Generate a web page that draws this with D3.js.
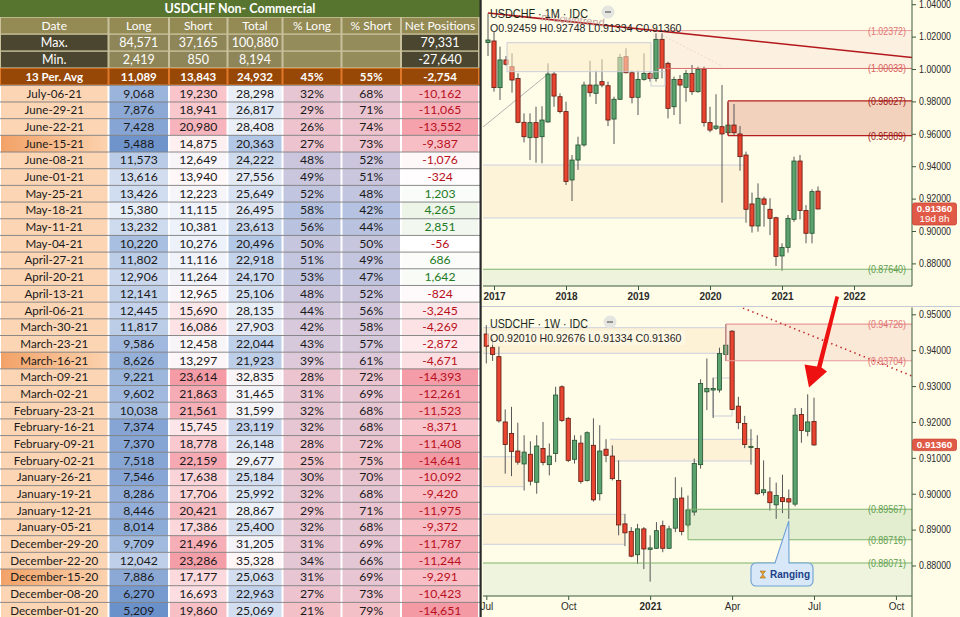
<!DOCTYPE html>
<html>
<head>
<meta charset="utf-8">
<script src="https://cdn.jsdelivr.net/npm/d3@7"></script>
<style>
  body { margin: 0; background: #fff; overflow: hidden; }
</style>
</head>
<body>
<svg id="chart" width="960" height="617"></svg>
<script>
// ---------- COT table ----------
const tableTitle = "USDCHF Non- Commercial";
const headers = ["Date", "Long", "Short", "Total", "% Long", "% Short", "Net Positions"];
const statLabels = ["Max.", "Min.", "13 Per. Avg"];
const statLong = [84571, 2419, 11089];
const statShort = [37165, 850, 13843];
const statTotal = [100880, 8194, 24932];
const statPctLong = [null, null, 45];
const statPctShort = [null, null, 55];
const statNet = [79331, -27640, -2754];

const dates = ["July-06-21", "June-29-21", "June-22-21", "June-15-21", "June-08-21", "June-01-21",
  "May-25-21", "May-18-21", "May-11-21", "May-04-21", "April-27-21", "April-20-21", "April-13-21",
  "April-06-21", "March-30-21", "March-23-21", "March-16-21", "March-09-21", "March-02-21",
  "February-23-21", "February-16-21", "February-09-21", "February-02-21", "January-26-21",
  "January-19-21", "January-12-21", "January-05-21", "December-29-20", "December-22-20",
  "December-15-20", "December-08-20", "December-01-20"];
const longPos = [9068, 7876, 7428, 5488, 11573, 13616, 13426, 15380, 13232, 10220, 11802, 12906, 12141,
  12445, 11817, 9586, 8626, 9221, 9602, 10038, 7374, 7370, 7518, 7546, 8286, 8446, 8014, 9709, 12042,
  7886, 6270, 5209];
const shortPos = [19230, 18941, 20980, 14875, 12649, 13940, 12223, 11115, 10381, 10276, 11116, 11264, 12965,
  15690, 16086, 12458, 13297, 23614, 21863, 21561, 15745, 18778, 22159, 17638, 17706, 20421, 17386, 21496,
  23286, 17177, 16693, 19860];
const totalPos = [28298, 26817, 28408, 20363, 24222, 27556, 25649, 26495, 23613, 20496, 22918, 24170, 25106,
  28135, 27903, 22044, 21923, 32835, 31465, 31599, 23119, 26148, 29677, 25184, 25992, 28867, 25400, 31205,
  35328, 25063, 22963, 25069];
const pctLong = [32, 29, 26, 27, 48, 49, 52, 58, 56, 50, 51, 53, 48, 44, 42, 43, 39, 28, 31, 32, 32, 28, 25,
  30, 32, 29, 32, 31, 34, 31, 27, 21];
const pctShort = [68, 71, 74, 73, 52, 51, 48, 42, 44, 50, 49, 47, 52, 56, 58, 57, 61, 72, 69, 68, 68, 72, 75,
  70, 68, 71, 68, 69, 66, 69, 73, 79];
const netPos = [-10162, -11065, -13552, -9387, -1076, -324, 1203, 4265, 2851, -56, 686, 1642, -824, -3245,
  -4269, -2872, -4671, -14393, -12261, -11523, -8371, -11408, -14641, -10092, -9420, -11975, -9372, -11787,
  -11244, -9291, -10423, -14651];
const highlightDates = ["June-15-21", "March-16-21", "December-15-20"];

// ---------- Monthly candles, Dec 2016 .. Jul 2021 ----------
const mOpen = [1.0163, 1.0173, 0.9885, 1.0056, 1.0014, 0.9942, 0.9671, 0.9576, 0.9669, 0.9582, 0.9673, 0.9969,
  0.9829, 0.9737, 0.9315, 0.9438, 0.9531, 0.9901, 0.9850, 0.9922, 0.9897, 0.9691, 0.9813, 1.0076, 0.9977,
  0.9825, 0.9936, 0.9973, 0.9942, 1.0183, 1.0035, 0.9767, 0.9936, 0.9887, 0.9973, 0.9860, 1.0000, 0.9669,
  0.9634, 0.9644, 0.9607, 0.9654, 0.9599, 0.9469, 0.9167, 0.9031, 0.9198, 0.9134, 0.9082, 0.8846, 0.8899,
  0.9072, 0.9432, 0.9126, 0.8986, 0.92459];
const mHigh = [1.0344, 1.0230, 1.0138, 1.0080, 1.0097, 0.9973, 0.9726, 0.9726, 0.9767, 0.9770, 1.0035, 0.9984,
  0.9850, 0.9798, 0.9469, 0.9582, 0.9922, 1.0051, 0.9990, 1.0060, 0.9922, 0.9829, 1.0093, 1.0128, 0.9990,
  0.9990, 1.0097, 0.9984, 1.0220, 1.0220, 1.0045, 0.9953, 0.9963, 0.9994, 1.0025, 1.0014, 1.0014, 0.9767,
  0.9844, 0.9901, 0.9792, 0.9784, 0.9648, 0.9490, 0.9237, 0.9294, 0.9212, 0.9202, 0.9088, 0.8924, 0.9099,
  0.9459, 0.9469, 0.9160, 0.9257, 0.92748];
const mLow = [1.0080, 0.9860, 0.9809, 1.0020, 0.9854, 0.9665, 0.9547, 0.9438, 0.9422, 0.9418, 0.9669, 0.9767,
  0.9726, 0.9284, 0.9185, 0.9377, 0.9521, 0.9829, 0.9784, 0.9887, 0.9648, 0.9537, 0.9809, 0.9973, 0.9788,
  0.9716, 0.9928, 0.9922, 0.9922, 0.9942, 0.9695, 0.9716, 0.9660, 0.9798, 0.9840, 0.9854, 0.9644, 0.9609,
  0.9623, 0.9175, 0.9593, 0.9593, 0.9372, 0.9051, 0.8990, 0.8996, 0.9027, 0.8975, 0.8784, 0.8755, 0.8866,
  0.9057, 0.9072, 0.8924, 0.8924, 0.91334];
const mClose = [1.0179, 0.9885, 1.0056, 1.0029, 0.9932, 0.9671, 0.9582, 0.9669, 0.9578, 0.9685, 0.9969, 0.9833,
  0.9737, 0.9305, 0.9438, 0.9531, 0.9901, 0.9854, 0.9901, 0.9901, 0.9685, 0.9813, 1.0072, 0.9977, 0.9825,
  0.9936, 0.9973, 0.9942, 1.0183, 1.0004, 0.9757, 0.9936, 0.9901, 0.9973, 0.9860, 0.9998, 0.9669, 0.9623,
  0.9648, 0.9599, 0.9654, 0.9607, 0.9459, 0.9134, 0.9031, 0.9202, 0.9165, 0.9078, 0.8842, 0.8899, 0.9078,
  0.9432, 0.9126, 0.8986, 0.9243, 0.91360];
const yearTicks = ["2017", "2018", "2019", "2020", "2021", "2022"];
const monthlyAxis = [1.04, 1.02, 1.00, 0.98, 0.96, 0.94, 0.92, 0.90, 0.88];
const monthlyLevels = [1.02372, 1.00033, 0.98027, 0.95889, 0.87640];

// ---------- Weekly candles, Jul 06 2020 .. Jul 05 2021 ----------
const wOpen = [0.9445, 0.9407, 0.9382, 0.9200, 0.9168, 0.9119, 0.9083, 0.9110, 0.9032, 0.9126, 0.9081, 0.9112,
  0.9298, 0.9210, 0.9096, 0.9141, 0.9037, 0.9135, 0.9000, 0.9124, 0.9105, 0.9037, 0.8916, 0.8895, 0.8830,
  0.8902, 0.8845, 0.8848, 0.8911, 0.8848, 0.8904, 0.8988, 0.8913, 0.8949, 0.9081, 0.9284, 0.9289, 0.9289,
  0.9388, 0.9453, 0.9244, 0.9196, 0.9129, 0.9126, 0.9003, 0.9005, 0.8969, 0.8989, 0.8986, 0.8971, 0.9221,
  0.9174, 0.92010];
const wHigh = [0.9470, 0.9433, 0.9410, 0.9235, 0.9242, 0.9198, 0.9163, 0.9146, 0.9163, 0.9200, 0.9140, 0.9298,
  0.9302, 0.9214, 0.9163, 0.9163, 0.9174, 0.9210, 0.9191, 0.9152, 0.9135, 0.9093, 0.8944, 0.8907, 0.8916,
  0.8907, 0.8884, 0.8921, 0.8925, 0.8911, 0.9046, 0.9018, 0.8995, 0.9098, 0.9319, 0.9377, 0.9323, 0.9407,
  0.9473, 0.9456, 0.9270, 0.9217, 0.9180, 0.9163, 0.9093, 0.9046, 0.9031, 0.9053, 0.9012, 0.9239, 0.9239,
  0.9277, 0.92676];
const wLow = [0.9363, 0.9370, 0.9198, 0.9056, 0.9049, 0.9081, 0.9009, 0.9023, 0.9000, 0.9079, 0.9051, 0.9088,
  0.9200, 0.9088, 0.9084, 0.9028, 0.9034, 0.8978, 0.8981, 0.9088, 0.9037, 0.8884, 0.8854, 0.8823, 0.8804,
  0.8790, 0.8755, 0.8846, 0.8837, 0.8846, 0.8893, 0.8884, 0.8907, 0.8939, 0.9070, 0.9233, 0.9211, 0.9282,
  0.9370, 0.9233, 0.9180, 0.9127, 0.9081, 0.8997, 0.8995, 0.8953, 0.8930, 0.8946, 0.8930, 0.8965, 0.9142,
  0.9160, 0.91334];
const wClose = [0.9411, 0.9388, 0.9203, 0.9137, 0.9118, 0.9088, 0.9116, 0.9035, 0.9133, 0.9087, 0.9105, 0.9275,
  0.9204, 0.9093, 0.9149, 0.9034, 0.9170, 0.8983, 0.9119, 0.9107, 0.9042, 0.8913, 0.8891, 0.8826, 0.8902,
  0.8846, 0.8849, 0.8897, 0.8848, 0.8902, 0.8986, 0.8895, 0.8955, 0.9084, 0.9307, 0.9293, 0.9293, 0.9391,
  0.9414, 0.9235, 0.9198, 0.9137, 0.9132, 0.9000, 0.9011, 0.8975, 0.8995, 0.8978, 0.8977, 0.9219, 0.9176,
  0.9200, 0.91360];
const weekTickIdx = [0, 13, 26, 39, 52, 65];
const weekTickLabels = ["Jul", "Oct", "2021", "Apr", "Jul", "Oct"];
const weeklyAxis = [0.95, 0.94, 0.93, 0.92, 0.91, 0.90, 0.89, 0.88];
const weeklyLevels = [0.94726, 0.93704, 0.89567, 0.88716, 0.88071];

const lastPrice = 0.91360;

// ---------- setup ----------
const svg = d3.select("#chart");
const fmt = d3.formatLocale({decimal: ".", thousands: ",", grouping: [3], currency: ["", ""], minus: "-"}).format(",");
const pfmt = d3.format(".5f");
const defs = svg.append("defs");

const hl = defs.append("linearGradient").attr("id", "hl");
hl.append("stop").attr("offset", "0%").attr("stop-color", "#f2a267");
hl.append("stop").attr("offset", "100%").attr("stop-color", "#fcd2ae");

// ================= TABLE =================
const cols = [0, 108.5, 169, 227.5, 282.5, 341.5, 401, 479];
const colMid = i => (cols[i] + cols[i + 1]) / 2;
const T = svg.append("g").attr("font-family", "Lato, 'Open Sans', sans-serif");
T.append("rect").attr("width", 480).attr("height", 617).attr("fill", "#ffffff");

// title row
T.append("rect").attr("x", 0).attr("y", 0).attr("width", 480).attr("height", 17).attr("fill", "#587530");
T.append("text").attr("x", 240).attr("y", 12.6).attr("text-anchor", "middle")
  .attr("font-size", 12.5).attr("font-weight", "bold").attr("fill", "#fff").text(tableTitle);

// header row
T.append("rect").attr("x", 0).attr("y", 17).attr("width", 480).attr("height", 68).attr("fill", "#c8c19c");
T.selectAll("rect.hdr").data(headers).join("rect").attr("class", "hdr")
  .attr("x", (d, i) => cols[i] + 1).attr("y", 17.8)
  .attr("width", (d, i) => cols[i + 1] - cols[i] - 2).attr("height", 15.6)
  .attr("fill", "#948a54");
T.selectAll("text.hdr").data(headers).join("text").attr("class", "hdr")
  .attr("x", (d, i) => colMid(i)).attr("y", 30).attr("text-anchor", "middle")
  .attr("font-size", 12).attr("fill", "#fff").text(d => d);

// Max / Min / Avg rows
const statRows = statLabels.map((lab, i) => [lab, statLong[i], statShort[i], statTotal[i],
  statPctLong[i], statPctShort[i], statNet[i]]);
const statY = [34, 51, 68];
const statFill = (r, c) => r === 2 ? "#974706" : (c === 0 || c === 6 ? "#4a4630" : (c < 4 ? "#8e8658" : "#958c5c"));
statRows.forEach((row, r) => {
  if (r === 2) {
    T.append("rect").attr("x", 0).attr("y", statY[r]).attr("width", 480).attr("height", 17.3).attr("fill", "#e0782a");
  }
  row.forEach((v, c) => {
    T.append("rect").attr("x", cols[c] + 1).attr("y", statY[r] + 0.8)
      .attr("width", cols[c + 1] - cols[c] - 2).attr("height", 15.6).attr("fill", statFill(r, c));
    if (v === null) return;
    let s = c === 0 ? v : (c === 4 || c === 5 ? v + "%" : fmt(v));
    T.append("text").attr("x", colMid(c)).attr("y", statY[r] + 13)
      .attr("text-anchor", "middle").attr("font-size", r === 2 ? 11.5 : 12.5)
      .attr("font-weight", r === 2 ? "bold" : "normal").attr("fill", "#fff").text(s);
  });
});

// data rows
const rowTop = 85.3, rowH = 16.68;
const longColor = d3.scaleLinear().domain(d3.extent(longPos)).range(["#6b91ca", "#e8eef8"]);
const shortColor = d3.scaleLinear().domain([d3.min(shortPos), 14000, d3.max(shortPos)])
  .range(["#edf2fa", "#fff7f8", "#f49ba5"]);
const totalColor = d3.scaleLinear().domain([d3.min(totalPos), 29000, d3.max(totalPos)])
  .range(["#b2c6e6", "#eef2f9", "#fff6f8"]);
const pctColor = d3.scaleLinear().domain([21, 40, 58]).range(["#f4c0c8", "#dccadb", "#b5c2e1"]).clamp(true);
const netColor = d3.scaleLinear().domain([d3.min(netPos), 0, d3.max(netPos)])
  .range(["#f49aa5", "#ffffff", "#ecf5e8"]);

const rows = dates.map((d, i) => ({
  cells: [
    {t: d, f: highlightDates.includes(d) ? "url(#hl)" : "#fcd5b4", c: "#1a1a1a"},
    {t: fmt(longPos[i]), f: longColor(longPos[i]), c: "#1a1a1a"},
    {t: fmt(shortPos[i]), f: shortColor(shortPos[i]), c: "#1a1a1a"},
    {t: fmt(totalPos[i]), f: totalColor(totalPos[i]), c: "#1a1a1a"},
    {t: pctLong[i] + "%", f: pctColor(pctLong[i]), c: "#1a1a1a"},
    {t: pctShort[i] + "%", f: pctColor(pctLong[i]), c: "#1a1a1a"},
    {t: fmt(netPos[i]), f: netColor(netPos[i]), c: netPos[i] < 0 ? "#b8101c" : "#237a23"}
  ]
}));

const R = T.selectAll("g.row").data(rows).join("g").attr("class", "row")
  .attr("transform", (d, i) => `translate(0,${rowTop + i * rowH})`);
R.selectAll("rect").data(d => d.cells).join("rect")
  .attr("x", (d, i) => cols[i] + 1).attr("y", 0)
  .attr("width", (d, i) => cols[i + 1] - cols[i] - 2).attr("height", rowH)
  .attr("fill", d => d.f);
R.append("line").attr("x1", 0).attr("x2", 480).attr("y1", 0).attr("y2", 0)
  .attr("stroke", "#7d7d7d").attr("stroke-width", 0.9);
R.selectAll("text").data(d => d.cells).join("text")
  .attr("x", (d, i) => colMid(i)).attr("y", 12.4).attr("text-anchor", "middle")
  .attr("font-size", (d, i) => i === 0 ? 11.6 : 12.2).attr("fill", d => d.c).text(d => d.t);

// ================= CHART PANES =================
const F = "'Liberation Sans', Arial, sans-serif";
const plotL = 483, plotR = 912;
svg.append("rect").attr("x", 480).attr("y", 0).attr("width", 480).attr("height", 617).attr("fill", "#fffde8");

function candles(g, x, y, O, H, L, C, shift, w) {
  const idx = d3.range(O.length);
  g.append("g").selectAll("line").data(idx).join("line")
    .attr("x1", i => x(i + shift)).attr("x2", i => x(i + shift))
    .attr("y1", i => y(H[i])).attr("y2", i => y(L[i]))
    .attr("stroke", "#575757").attr("stroke-width", 1);
  g.append("g").selectAll("rect").data(idx).join("rect")
    .attr("x", i => x(i + shift) - w / 2)
    .attr("y", i => y(Math.max(O[i], C[i])))
    .attr("width", w)
    .attr("height", i => Math.max(1.2, Math.abs(y(O[i]) - y(C[i]))))
    .attr("fill", i => C[i] >= O[i] ? "#5aa36e" : "#e8442f")
    .attr("stroke", i => C[i] >= O[i] ? "#234f2e" : "#5e1a10")
    .attr("stroke-width", 0.8);
}

function level(g, x0, yv, color, w) {
  g.append("line").attr("x1", x0).attr("x2", plotR).attr("y1", yv).attr("y2", yv)
    .attr("stroke", color).attr("stroke-width", w || 1);
}
function levelLabel(g, yv, v, color) {
  g.append("text").attr("x", 906).attr("y", yv + 4).attr("text-anchor", "end")
    .attr("font-family", F).attr("font-size", 11.2).attr("textLength", 38).attr("lengthAdjust", "spacingAndGlyphs")
    .attr("fill", color).text(`(${pfmt(v)})`);
}
function yAxis(g, y, vals) {
  const ax = d3.axisRight(y).tickValues(vals).tickFormat(pfmt).tickSize(4).tickPadding(3);
  const a = g.append("g").attr("transform", `translate(${plotR},0)`).call(ax);
  a.select(".domain").remove();
  a.selectAll("line").attr("stroke", "#3d5a3d");
  a.selectAll("text").attr("font-family", F).attr("font-size", 10.4).attr("textLength", 32)
    .attr("lengthAdjust", "spacingAndGlyphs").attr("fill", "#2b2b2b");
}
function priceTag(g, yv, lines) {
  const h = lines.length === 2 ? 22 : 11.5;
  const top = lines.length === 2 ? yv - 6 : yv - 5.8;
  g.append("rect").attr("x", plotR + 0.5).attr("y", top).attr("width", 44).attr("height", h)
    .attr("rx", 2).attr("fill", "#e05a47").attr("stroke", "#c94636").attr("stroke-width", 0.8);
  lines.forEach((t, k) => g.append("text").attr("x", plotR + 22.5).attr("y", top + 9 + k * 10.5)
    .attr("text-anchor", "middle").attr("font-family", F).attr("font-size", 9.8)
    .attr("font-weight", k === 0 ? "bold" : "normal").attr("fill", "#fff").text(t));
}
function minusBtn(g, cx, cy) {
  g.append("circle").attr("cx", cx).attr("cy", cy).attr("r", 6.5).attr("fill", "#e4e4e0");
  g.append("line").attr("x1", cx - 3).attr("x2", cx + 3).attr("y1", cy).attr("y2", cy)
    .attr("stroke", "#8a8a8a").attr("stroke-width", 1.8);
}
function legendTitle(g, x, y, t) {
  g.append("text").attr("x", x).attr("y", y).attr("font-family", F).attr("font-size", 13)
    .attr("textLength", 98).attr("lengthAdjust", "spacingAndGlyphs")
    .attr("fill", "#1c2a1c").text(t);
}

// ---------- MONTHLY ----------
const M = svg.append("g");
const xM = d3.scaleLinear().domain([0, 12]).range([494, 566]);   // month index, 0 = Jan 2017
const yM = d3.scaleLinear().domain([0.88, 1.04]).range([263.4, 4.2]);
const mBottom = 286;
defs.append("clipPath").attr("id", "clipM").append("rect")
  .attr("x", plotL).attr("y", 0).attr("width", plotR - plotL).attr("height", mBottom);
const MC = M.append("g").attr("clip-path", "url(#clipM)");

// background zones
MC.append("rect").attr("x", plotL).attr("y", 165).attr("width", 745 - plotL).attr("height", 53).attr("fill", "#fdf3d8");
[165, 218].forEach(v => MC.append("line").attr("x1", plotL).attr("x2", 745).attr("y1", v).attr("y2", v)
  .attr("stroke", "#cdd1de").attr("stroke-width", 1));
MC.append("rect").attr("x", plotL).attr("y", yM(monthlyLevels[4])).attr("width", plotR - plotL)
  .attr("height", mBottom - yM(monthlyLevels[4])).attr("fill", "#eef4dc");
MC.append("rect").attr("x", 653).attr("y", yM(monthlyLevels[0])).attr("width", plotR - 653)
  .attr("height", yM(monthlyLevels[1]) - yM(monthlyLevels[0])).attr("fill", "#fbeedd").attr("opacity", 0.8);
MC.append("rect").attr("x", 728).attr("y", yM(monthlyLevels[2])).attr("width", plotR - 728)
  .attr("height", yM(monthlyLevels[3]) - yM(monthlyLevels[2])).attr("fill", "#f2d2bd");
MC.append("line").attr("x1", 483).attr("y1", 127).attr("x2", 548).attr("y2", 74)
  .attr("stroke", "#9d9d9d").attr("stroke-width", 0.8);
MC.append("line").attr("x1", 662).attr("y1", 35).attr("x2", 722).attr("y2", 66)
  .attr("stroke", "#e8d0c8").attr("stroke-dasharray", "2,2").attr("stroke-width", 0.8);

candles(MC, xM, yM, mOpen, mHigh, mLow, mClose, -1, 4.2);

// translucent box over candles
MC.append("rect").attr("x", 507).attr("y", 42.7).attr("width", 144).attr("height", 29)
  .attr("fill", "#fcebc8").attr("fill-opacity", 0.55).attr("stroke", "#c6cad8").attr("stroke-width", 0.9);
MC.append("rect").attr("x", 651).attr("y", 71.7).attr("width", 14).attr("height", 14.3)
  .attr("fill", "none").attr("stroke", "#c6cad8").attr("stroke-width", 0.9);

// levels
level(MC, 653, yM(monthlyLevels[0]), "#e9a0a0", 1);
level(MC, 657, yM(monthlyLevels[1]), "#d76b6b", 1);
level(MC, 728, yM(monthlyLevels[2]), "#b31d1d", 1.2);
level(MC, 728, yM(monthlyLevels[3]), "#b31d1d", 1.2);
MC.append("line").attr("x1", 728).attr("x2", 728).attr("y1", yM(monthlyLevels[2])).attr("y2", yM(monthlyLevels[3]))
  .attr("stroke", "#b31d1d").attr("stroke-width", 1.2);
level(MC, plotL, yM(monthlyLevels[4]), "#7db36b", 1.2);

// downtrend line
MC.append("line").attr("x1", 488).attr("y1", 13).attr("x2", plotR).attr("y2", 57.5)
  .attr("stroke", "#b3191c").attr("stroke-width", 1.6);
MC.append("text").attr("x", 541).attr("y", 20.5).attr("transform", "rotate(5.5,541,20.5)")
  .attr("font-family", F).attr("font-size", 11).attr("fill", "#bfa2a2").text("m downtrend");

levelLabel(MC, yM(monthlyLevels[0]), monthlyLevels[0], "#e07474");
levelLabel(MC, yM(monthlyLevels[1]), monthlyLevels[1], "#d86060");
levelLabel(MC, yM(monthlyLevels[2]), monthlyLevels[2], "#9a1616");
levelLabel(MC, yM(monthlyLevels[3]), monthlyLevels[3], "#9a1616");
levelLabel(MC, yM(monthlyLevels[4]), monthlyLevels[4], "#5f9e4f");

// legend
legendTitle(M, 490, 17.5, "USDCHF · 1M · IDC");
minusBtn(M, 608, 12);
M.append("text").attr("x", 490).attr("y", 32).attr("font-family", F).attr("font-size", 10.6)
  .attr("fill", "#262626").text(`O${pfmt(mOpen[55])} H${pfmt(mHigh[55])} L${pfmt(mLow[55])} C${pfmt(mClose[55])}`);

// axes
M.append("line").attr("x1", plotR).attr("x2", plotR).attr("y1", 0).attr("y2", mBottom).attr("stroke", "#3d5a3d");
M.append("line").attr("x1", plotL).attr("x2", plotR).attr("y1", mBottom).attr("y2", mBottom).attr("stroke", "#3d5a3d");
yAxis(M, yM, monthlyAxis);
const axM = d3.axisBottom(xM).tickValues(yearTicks.map((d, i) => i * 12))
  .tickFormat((d, i) => yearTicks[i]).tickSize(4).tickPadding(3);
const gxM = M.append("g").attr("transform", `translate(0,${mBottom})`).call(axM);
gxM.select(".domain").remove();
gxM.selectAll("line").attr("stroke", "#3d5a3d");
gxM.selectAll("text").attr("font-family", F).attr("font-size", 10).attr("font-weight", "bold").attr("fill", "#2b2b2b");
priceTag(M, yM(lastPrice), [pfmt(lastPrice), "19d 8h"]);

// separator
svg.append("line").attr("x1", 480).attr("x2", 960).attr("y1", 306.5).attr("y2", 306.5)
  .attr("stroke", "#c5cad6").attr("stroke-width", 1.2);

// ---------- WEEKLY ----------
const W = svg.append("g");
const xW = d3.scaleLinear().domain([0, 52]).range([486.3, 814]);  // week index, 0 = Jul 06 2020
const yW = d3.scaleLinear().domain([0.88, 0.95]).range([565.5, 314.3]);
const wTop = 307.5, wBottom = 596;
defs.append("clipPath").attr("id", "clipW").append("rect")
  .attr("x", plotL).attr("y", wTop).attr("width", plotR - plotL).attr("height", wBottom - wTop);
const WC = W.append("g").attr("clip-path", "url(#clipW)");

const boxes = [[483, 327.7, 727, 353.3], [483, 456.7, 523, 486.7], [483, 514.3, 624, 544.3], [610, 439.3, 753, 461]];
boxes.forEach(b => {
  WC.append("rect").attr("x", b[0]).attr("y", b[1]).attr("width", b[2] - b[0]).attr("height", b[3] - b[1])
    .attr("fill", "#fdf1d6");
  [b[1], b[3]].forEach(v => WC.append("line").attr("x1", b[0]).attr("x2", b[2]).attr("y1", v).attr("y2", v)
    .attr("stroke", "#cdd1de").attr("stroke-width", 1));
});
WC.append("rect").attr("x", plotL).attr("y", yW(weeklyLevels[4])).attr("width", plotR - plotL)
  .attr("height", wBottom - yW(weeklyLevels[4])).attr("fill", "#eef4dd");
WC.append("rect").attr("x", 688).attr("y", yW(weeklyLevels[2])).attr("width", plotR - 688)
  .attr("height", yW(weeklyLevels[3]) - yW(weeklyLevels[2])).attr("fill", "#e3eed0");
WC.append("rect").attr("x", 726).attr("y", yW(weeklyLevels[0])).attr("width", plotR - 726)
  .attr("height", yW(weeklyLevels[1]) - yW(weeklyLevels[0])).attr("fill", "#fbe9d8");
WC.append("rect").attr("x", 713).attr("y", 378).attr("width", 19).attr("height", 38)
  .attr("fill", "none").attr("stroke", "#c6cad8").attr("stroke-width", 0.9);

candles(WC, xW, yW, wOpen, wHigh, wLow, wClose, 0, 4.2);

level(WC, 726, yW(weeklyLevels[0]), "#e99a9a", 1.1);
level(WC, 726, yW(weeklyLevels[1]), "#e99a9a", 1.1);
WC.append("line").attr("x1", 726).attr("x2", 726).attr("y1", yW(weeklyLevels[0])).attr("y2", yW(weeklyLevels[1]))
  .attr("stroke", "#e99a9a").attr("stroke-width", 1.1);
level(WC, 688, yW(weeklyLevels[2]), "#7db36b", 1.1);
level(WC, 688, yW(weeklyLevels[3]), "#7db36b", 1.1);
WC.append("line").attr("x1", 688).attr("x2", 688).attr("y1", yW(weeklyLevels[2])).attr("y2", yW(weeklyLevels[3]))
  .attr("stroke", "#7db36b").attr("stroke-width", 1.1);
level(WC, plotL, yW(weeklyLevels[4]), "#7db36b", 1.1);

// dotted trend line
WC.append("line").attr("x1", 743).attr("y1", 308).attr("x2", plotR).attr("y2", 376)
  .attr("stroke", "#c0282a").attr("stroke-width", 1.6).attr("stroke-dasharray", "1.4,3.6");

levelLabel(WC, yW(weeklyLevels[0]), weeklyLevels[0], "#e07474");
levelLabel(WC, yW(weeklyLevels[1]), weeklyLevels[1], "#e07474");
levelLabel(WC, yW(weeklyLevels[2]), weeklyLevels[2], "#5f9e4f");
levelLabel(WC, yW(weeklyLevels[3]), weeklyLevels[3], "#5f9e4f");
levelLabel(WC, yW(weeklyLevels[4]), weeklyLevels[4], "#5f9e4f");

// legend
W.append("rect").attr("x", 487).attr("y", 331).attr("width", 198).attr("height", 14)
  .attr("fill", "#fffbe9").attr("opacity", 0.6);
legendTitle(W, 490, 327.5, "USDCHF · 1W · IDC");
minusBtn(W, 610, 322);
W.append("text").attr("x", 490).attr("y", 342).attr("font-family", F).attr("font-size", 10.6)
  .attr("fill", "#262626").text(`O${pfmt(wOpen[52])} H${pfmt(wHigh[52])} L${pfmt(wLow[52])} C${pfmt(wClose[52])}`);

// "Ranging" callout
const tipX = xW(48), tipY = yW(wLow[48]) + 2;
W.append("path")
  .attr("d", `M751,568 a5,5 0 0 1 5,-5 H775 L${tipX},${tipY} L789,563 H808 a5,5 0 0 1 5,5 V581 a5,5 0 0 1 -5,5 H756 a5,5 0 0 1 -5,-5 Z`)
  .attr("fill", "#d8e8f8").attr("stroke", "#6d9fd6").attr("stroke-width", 1.1);
W.append("path").attr("d", "M760,571 h5.5 l-5.5,7 h5.5 z").attr("fill", "#eea528").attr("stroke", "#8a5a10").attr("stroke-width", 0.5);
W.append("text").attr("x", 770).attr("y", 578.3).attr("font-family", F).attr("font-size", 10)
  .attr("font-weight", "bold").attr("fill", "#203f88").text("Ranging");

// red arrow
svg.append("path").attr("d", "M835.5,296 L839,297 L821.5,367.5 L827,371.5 L809,387.5 L804.5,364.5 L817,366.5 Z")
  .attr("fill", "#ee1111");

// axes
W.append("line").attr("x1", plotR).attr("x2", plotR).attr("y1", wTop).attr("y2", 617).attr("stroke", "#3d5a3d");
W.append("line").attr("x1", plotL).attr("x2", plotR).attr("y1", wBottom).attr("y2", wBottom).attr("stroke", "#3d5a3d");
yAxis(W, yW, weeklyAxis);
const axW = d3.axisBottom(xW).tickValues(weekTickIdx).tickFormat((d, i) => weekTickLabels[i]).tickSize(4).tickPadding(3);
const gxW = W.append("g").attr("transform", `translate(0,${wBottom})`).call(axW);
gxW.select(".domain").remove();
gxW.selectAll("line").attr("stroke", "#3d5a3d");
gxW.selectAll("text").attr("font-family", F).attr("font-size", 10).attr("fill", "#2b2b2b")
  .attr("font-weight", (d, i) => weekTickLabels[i] === "2021" ? "bold" : "normal");
priceTag(W, yW(lastPrice), [pfmt(lastPrice)]);

// left frame line of the chart pane
svg.append("rect").attr("x", 479.5).attr("y", 0).attr("width", 2.2).attr("height", 617).attr("fill", "#2a2a2a");
</script>
</body>
</html>
